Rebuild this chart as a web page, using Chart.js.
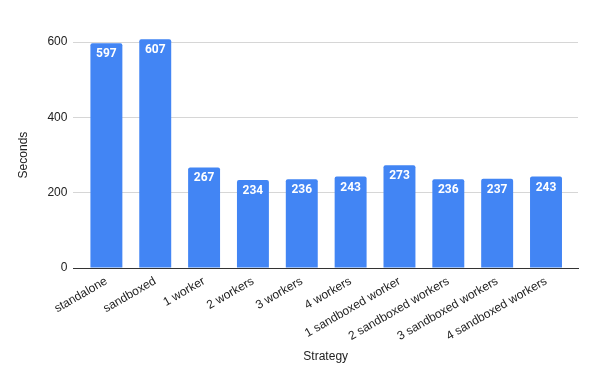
<!DOCTYPE html>
<html><head><meta charset="utf-8">
<script src="https://cdn.jsdelivr.net/npm/chart.js@4/dist/chart.umd.min.js"></script>
<style>html,body{margin:0;padding:0;background:#fff}#wrap{width:596px;height:382px}</style>
</head><body><div id="wrap"><canvas id="c"></canvas></div>
<script>
const categories = ["standalone","sandboxed","1 worker","2 workers","3 workers","4 workers","1 sandboxed worker","2 sandboxed workers","3 sandboxed workers","4 sandboxed workers"];
const seconds = [597,607,267,234,236,243,273,236,237,243];
const yTicks = [0,200,400,600];

const points = seconds.map((v, i) => ({ x: i, y: v }));
const FONT = '"Liberation Sans", Arial, sans-serif';

const labelPlugin = {
  id: 'barLabels',
  afterDatasetsDraw(chart) {
    const ctx = chart.ctx;
    const meta = chart.getDatasetMeta(0);
    ctx.save();
    ctx.fillStyle = '#ffffff';
    ctx.font = 'bold 12px Roboto, "Liberation Sans", Arial, sans-serif';
    ctx.textAlign = 'center';
    ctx.textBaseline = 'top';
    meta.data.forEach((bar, i) => {
      ctx.fillText(String(seconds[i]), bar.x, bar.y + 5);
    });
    ctx.restore();
  }
};

new Chart(document.getElementById('c'), {
  type: 'bar',
  data: {
    datasets: [{
      data: points,
      backgroundColor: '#4285F4',
      borderRadius: {topLeft: 2, topRight: 2, bottomLeft: 0, bottomRight: 0},
      borderSkipped: 'bottom',
      barPercentage: 0.654,
      categoryPercentage: 1.0,
      clip: false
    }]
  },
  options: {
    responsive: true,
    maintainAspectRatio: false,
    animation: false,
    layout: { padding: { left: 16, right: 18, top: 42, bottom: 18 } },
    plugins: { legend: { display: false }, tooltip: { enabled: false } },
    scales: {
      x: {
        type: 'linear',
        min: -0.675, max: 9.655,
        offset: false,
        afterBuildTicks(scale) { scale.ticks = categories.map((c, i) => ({ value: i })); },
        grid: { display: false, drawTicks: false },
        border: { color: '#333333', width: 1 },
        ticks: {
          color: '#222', font: { family: FONT, size: 12 },
          minRotation: 30, maxRotation: 30, autoSkip: false, padding: 6,
          callback: (v) => categories[v]
        },
        title: { display: true, text: 'Strategy', color: '#222', font: { family: FONT, size: 12 }, padding: { top: 0, bottom: 0 } }
      },
      y: {
        min: 0, max: 600,
        afterBuildTicks(scale) { scale.ticks = yTicks.map(v => ({ value: v })); },
        grid: { color: ctx => ctx.tick && ctx.tick.value === 0 ? '#333333' : '#d6d6d6', drawTicks: false },
        border: { display: false },
        ticks: { color: '#222', font: { family: FONT, size: 12 }, padding: 6 },
        title: { display: true, text: 'Seconds', color: '#222', font: { family: FONT, size: 12 }, padding: { top: 0, bottom: 11 } }
      }
    }
  },
  plugins: [labelPlugin]
});
</script></body></html>
